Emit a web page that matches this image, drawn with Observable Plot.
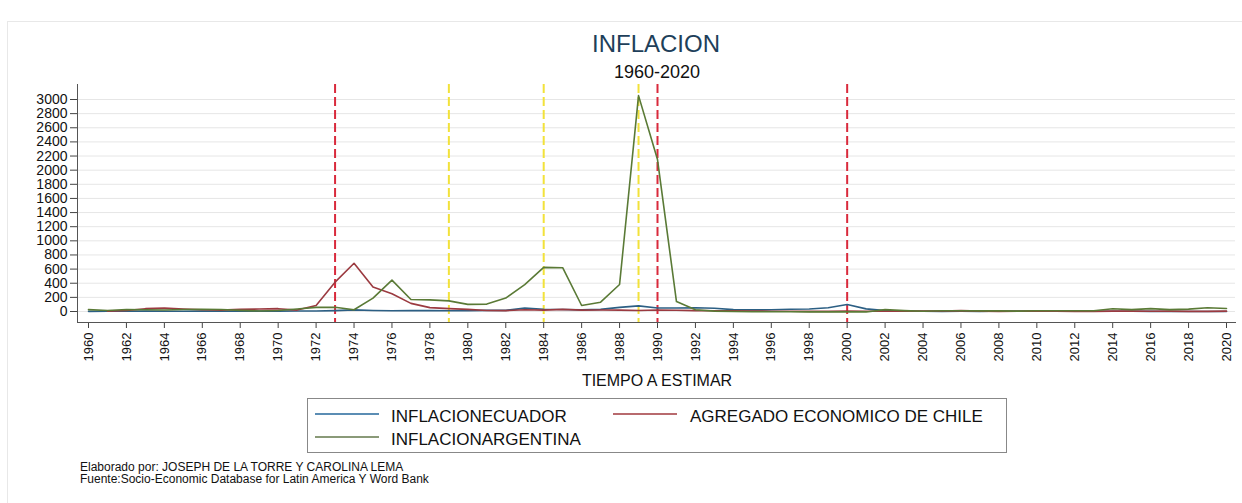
<!DOCTYPE html>
<html><head><meta charset="utf-8">
<script src="https://cdn.jsdelivr.net/npm/d3@7"></script>
<script src="https://cdn.jsdelivr.net/npm/@observablehq/plot@0.6"></script>
<style>
html,body{margin:0;padding:0;background:#fff;}
#wrap{position:relative;width:1242px;height:503px;overflow:hidden;font-family:"Liberation Sans",Arial,sans-serif;}
.abs{position:absolute;white-space:nowrap;line-height:1;}
#frame{position:absolute;left:7px;top:21px;right:-2px;bottom:-2px;border:1px solid #e8e8e8;}
#chart{position:absolute;left:0;top:0;}
#title{left:656px;top:31.7px;transform:translateX(-50%);font-size:24px;color:#1e3f5a;}
#subtitle{left:657px;top:62.8px;transform:translateX(-50%);font-size:18px;color:#111;}
#xtitle{left:657px;top:372.5px;transform:translateX(-50%);font-size:16px;color:#111;}
#legend{position:absolute;left:307px;top:398px;width:700px;height:55px;box-sizing:border-box;border:1px solid #888;background:#fff;}
.sw{position:absolute;overflow:visible;}
.lt{font-size:17px;color:#111;}
.cap{font-size:12px;color:#111;left:80px;}
</style></head><body>
<div id="wrap">
  <div id="frame"></div>
  <div id="chart"></div>
  <div class="abs" id="title">INFLACION</div>
  <div class="abs" id="subtitle">1960-2020</div>
  <div class="abs" id="xtitle">TIEMPO A ESTIMAR</div>
  <div id="legend"></div>
  <div class="abs cap" id="cap1" style="top:460.8px">Elaborado por: JOSEPH DE LA TORRE Y CAROLINA LEMA</div>
  <div class="abs cap" id="cap2" style="top:472.8px">Fuente:Socio-Economic Database for Latin America Y Word Bank</div>
</div>
<script>
// ---- data ----
const years = d3.range(1960, 2021);
const seriesNames = ["INFLACIONECUADOR", "AGREGADO ECONOMICO DE CHILE", "INFLACIONARGENTINA"];
const seriesColors = ["#2c5f84", "#9b3a40", "#5a7a36"];
const legendColors = ["#5b8db4", "#b86a6e", "#8a9a78"];

const ecuador = [
  2, 4, 4, 5, 4, 4, 5, 4, 4, 6,
  5, 8, 8, 13, 23, 15, 11, 13, 12, 10,
  13, 16, 16, 48, 31, 28, 23, 30, 58, 80,
  49, 49, 54, 45, 27, 23, 24, 31, 36, 52,
  100, 37, 13, 8, 3, 2, 3, 2, 8, 5,
  4, 5, 5, 3, 4, 4, 2, 0, 0, 0,
  0
];
const chile = [
  null, 5, 15, 40, 50, 35, 25, 20, 30, 35,
  40, 20, 85, 415, 683, 345, 250, 115, 55, 40,
  30, 15, 13, 25, 20, 30, 20, 22, 20, 15,
  22, 18, 12, 10, 9, 8, 4, 4, 2, 2,
  5, 4, 4, 5, 7, 7, 12, 5, 0, 4,
  9, 3, 1, 2, 6, 5, 4, 5, 2, 2,
  5
];
const argentina = [
  27, 14, 28, 24, 22, 29, 32, 29, 16, 8,
  14, 35, 59, 61, 24, 190, 444, 170, 165, 150,
  101, 105, 190, 380, 625, 620, 85, 132, 382, 3055,
  2150, 141, 25, 5, 0, -3, -4, -4, -5, -6,
  -6, -6, 26, 13, 4, 10, 11, 9, 9, 6,
  11, 10, 10, 11, 38, 27, 40, 26, 34, 53,
  42
];
const redYears = [1973, 1990, 2000];
const yellowYears = [1979, 1984, 1989];
const xTicks = d3.range(1960, 2021, 2);
const yTicks = d3.range(0, 3001, 200);

const seriesValues = [ecuador, chile, argentina];
const rows = seriesNames.flatMap((s, k) =>
  years.map((year, i) => ({year, value: seriesValues[k][i], series: s})));

const chart = Plot.plot({
  width: 1242,
  height: 370,
  marginLeft: 77,
  marginRight: 7,
  marginTop: 84,
  marginBottom: 48,
  x: {domain: [1960, 2020], insetLeft: 11, insetRight: 9},
  y: {domain: [0, 3000], insetTop: 15, insetBottom: 11},
  color: {domain: seriesNames, range: seriesColors},
  style: {fontFamily: "'Liberation Sans', Arial, sans-serif", background: "transparent", overflow: "visible"},
  marks: [
    Plot.gridY(yTicks, {stroke: "#e6e6e6", strokeOpacity: 1, strokeWidth: 1}),
    Plot.ruleX(redYears, {stroke: "#d92a3c", strokeWidth: 2, strokeDasharray: "9,4"}),
    Plot.ruleX(yellowYears, {stroke: "#f2e23a", strokeWidth: 2, strokeDasharray: "9,4"}),
    Plot.line(rows, {x: "year", y: "value", z: "series", stroke: "series", strokeWidth: 1.6, defined: d => d.value != null}),
    Plot.axisY(yTicks, {tickSize: 7, tickPadding: 3, fontSize: 14, label: null, tickFormat: d => String(d), color: "#111", stroke: "#444"}),
    Plot.axisX(xTicks, {tickSize: 6, tickPadding: 4, tickRotate: -90, fontSize: 13, label: null, tickFormat: d => String(d), color: "#111", stroke: "#444"}),
    Plot.frame({anchor: "left", stroke: "#555"}),
    Plot.frame({anchor: "bottom", stroke: "#555"})
  ]
});
document.getElementById("chart").appendChild(chart);

// legend built from the same series arrays
const legend = document.getElementById("legend");
const legendPos = [
  {sx: 7, sy: 15, tx: 83, ty: 9},
  {sx: 305, sy: 15, tx: 382, ty: 9},
  {sx: 7, sy: 38, tx: 83, ty: 31.5}
];
const svgNS = "http://www.w3.org/2000/svg";
seriesNames.forEach((name, k) => {
  const p = legendPos[k];
  const sw = document.createElementNS(svgNS, "svg");
  sw.setAttribute("class", "sw");
  sw.setAttribute("width", 64);
  sw.setAttribute("height", 4);
  sw.style.left = p.sx + "px";
  sw.style.top = (p.sy - 2) + "px";
  const ln = document.createElementNS(svgNS, "line");
  ln.setAttribute("x1", 0); ln.setAttribute("x2", 64);
  ln.setAttribute("y1", 2); ln.setAttribute("y2", 2);
  ln.setAttribute("stroke", legendColors[k]);
  ln.setAttribute("stroke-width", 1.8);
  sw.appendChild(ln);
  legend.appendChild(sw);
  const t = document.createElement("div");
  t.className = "abs lt";
  t.style.cssText = `left:${p.tx}px;top:${p.ty}px;`;
  t.textContent = name;
  legend.appendChild(t);
});
</script>
</body></html>
